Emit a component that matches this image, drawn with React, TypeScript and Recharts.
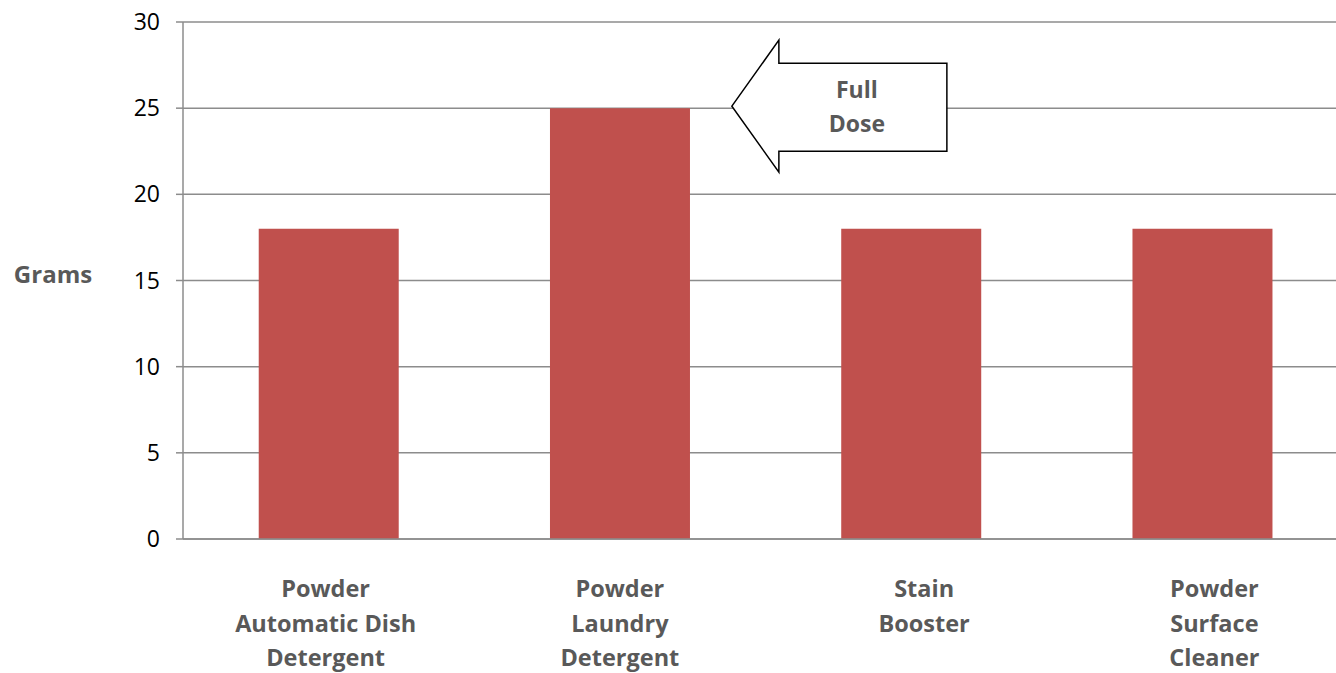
import { Bar, BarChart, CartesianGrid, ReferenceDot, XAxis, YAxis } from 'recharts';

const categories = [
  'Powder\nAutomatic Dish\nDetergent',
  'Powder\nLaundry\nDetergent',
  'Stain\nBooster',
  'Powder\nSurface\nCleaner',
];
const grams = [18, 25, 18, 18];
const yTicks = [0, 5, 10, 15, 20, 25, 30];
const calloutLines = ['Full', 'Dose'];

const data = categories.map((name, i) => ({ name, grams: grams[i] }));

const FONT = '"Open Sans", Lato, sans-serif';
const AXIS_GRAY = '#8c8c8c';
const LABEL_GRAY = '#595959';
// the original's category labels don't sit exactly under the bars
const labelNudge = [-3, 0, 13, 12];

function CategoryTick({ x, y, payload, index }: any) {
  const lines = String(payload.value).split('\n');
  const lx = x + (labelNudge[index] ?? 0);
  return (
    <text x={lx} y={y + 50} textAnchor="middle" fontFamily={FONT} fontSize={23.5} fontWeight={700} fill={LABEL_GRAY}>
      {lines.map((line, i) => (
        <tspan key={i} x={lx} dy={i === 0 ? 0 : 34.5}>
          {line}
        </tspan>
      ))}
    </text>
  );
}

// arrow callout pointing left at the top of the laundry bar
function Callout({ cx, cy }: any) {
  const tx = cx + 112;
  const ty = cy - 2;
  const pts = [
    [tx, ty],
    [tx + 47, ty - 66],
    [tx + 47, ty - 43],
    [tx + 215, ty - 43],
    [tx + 215, ty + 45],
    [tx + 47, ty + 45],
    [tx + 47, ty + 66],
  ]
    .map((p) => p.join(','))
    .join(' ');
  return (
    <g>
      <polygon points={pts} fill="#ffffff" stroke="#000000" strokeWidth={1.5} />
      {calloutLines.map((line, i) => (
        <text
          key={line}
          x={tx + 125}
          y={ty - 8 + i * 34}
          textAnchor="middle"
          fontFamily={FONT}
          fontSize={23}
          fontWeight={700}
          fill={LABEL_GRAY}
        >
          {line}
        </text>
      ))}
    </g>
  );
}

function GramsLabel({ viewBox }: any) {
  const { y, height } = viewBox;
  return (
    <text x={53} y={y + height / 2 + 2} textAnchor="middle" fontFamily={FONT} fontSize={24} fontWeight={700} fill={LABEL_GRAY}>
      Grams
    </text>
  );
}

export default function App() {
  return (
    <div style={{ position: 'absolute', left: 0, top: 0, width: 1336, height: 673, overflow: 'hidden', background: '#fff' }}>
      <BarChart
        width={1348}
        height={673}
        data={data}
        margin={{ top: 22, right: 0, bottom: 0, left: 0 }}
        barCategoryGap="26%"
      >
        <CartesianGrid horizontal vertical={false} stroke={AXIS_GRAY} strokeWidth={1.5} />
        <XAxis
          dataKey="name"
          tickLine={false}
          axisLine={{ stroke: AXIS_GRAY, strokeWidth: 1.5 }}
          tick={<CategoryTick />}
          interval={0}
          height={134}
        />
        <YAxis
          width={183}
          domain={[0, 30]}
          ticks={yTicks}
          interval={0}
          tickSize={7}
          tickMargin={16}
          tickLine={{ stroke: AXIS_GRAY, strokeWidth: 1.5 }}
          axisLine={{ stroke: AXIS_GRAY, strokeWidth: 1.5 }}
          tick={{ fontFamily: FONT, fontSize: 23, fill: '#000000' }}
          label={<GramsLabel />}
        />
        <Bar dataKey="grams" fill="#C0504D" isAnimationActive={false} />
        <ReferenceDot x={categories[1]} y={grams[1]} shape={<Callout />} ifOverflow="visible" />
      </BarChart>
    </div>
  );
}
